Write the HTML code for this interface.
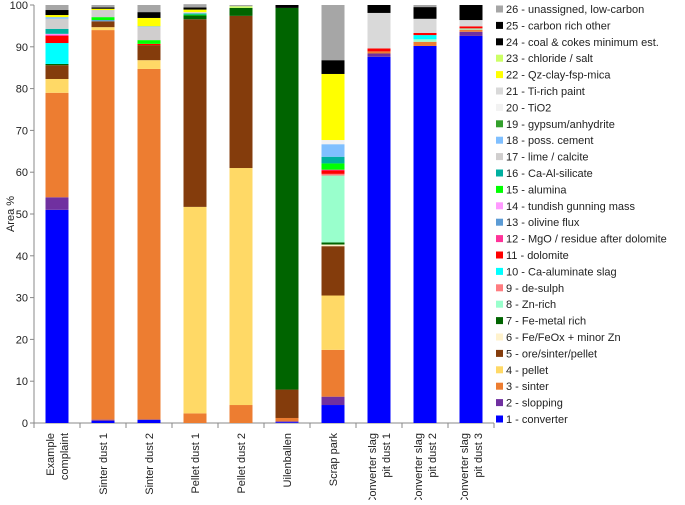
<!DOCTYPE html>
<html><head><meta charset="utf-8"><style>
body{margin:0;background:#fff;width:685px;height:500px;overflow:hidden}
svg text{font-family:"Liberation Sans",sans-serif;fill:#222}
</style></head><body>
<svg id="chart" width="685" height="500">
<g id="axes"></g><g id="bars"></g><g id="legend"></g>
</svg>
<script>
const categories=[["Example","complaint"],["Sinter dust 1"],["Sinter dust 2"],["Pellet dust 1"],["Pellet dust 2"],["Uilenballen"],["Scrap park"],["Converter slag","pit dust 1"],["Converter slag","pit dust 2"],["Converter slag","pit dust 3"]];
const seriesNames=["1 - converter","2 - slopping","3 - sinter","4 - pellet","5 - ore/sinter/pellet","6 - Fe/FeOx + minor Zn","7 - Fe-metal rich","8 - Zn-rich","9 - de-sulph","10 - Ca-aluminate slag","11 - dolomite","12 - MgO / residue after dolomite","13 - olivine flux","14 - tundish gunning mass","15 - alumina","16 - Ca-Al-silicate","17 - lime / calcite","18 - poss. cement","19 - gypsum/anhydrite","20 - TiO2","21 - Ti-rich paint","22 - Qz-clay-fsp-mica","23 - chloride / salt","24 - coal & cokes minimum est.","25 - carbon rich other","26 - unassigned, low-carbon"];
const colors=["#0000FF","#7030A0","#ED7D31","#FFD966","#843C0C","#FFF2CC","#006400","#99FFCC","#FF7C80","#00FFFF","#FF0000","#FF3399","#5B9BD5","#FF99FF","#00FF00","#00B0A0","#D0CECE","#7FBFFF","#33A02C","#F2F2F2","#D9D9D9","#FFFF00","#CCFF66","#000000","#000000","#A6A6A6"];
const s1=[51,0.5,0.8,0,0,0.2,4.3,87.6,90.2,92.6];
const s2=[3,0.3,0,0,0,0.2,2,0.8,0,1];
const s3=[25,93.2,83.9,2.3,4.3,0.8,11.2,0.5,1,0.5];
const s4=[3.3,0.7,2.1,49.4,56.7,0,13,0,0,0];
const s5=[3.3,1.4,3.6,44.9,36.4,6.8,11.8,0,0,0];
const s6=[0,0,0,0,0,0,0.4,0,0,0];
const s7=[0.3,0,0,0.9,1.9,91.3,0.5,0,0,0];
const s8=[0,0,0,0,0,0,16,0,0.6,0.3];
const s9=[0,0,0,0,0,0,0.4,0,0,0];
const s10=[5,0,0,0,0,0,0,0,1,0];
const s11=[1.7,0,0.3,0,0,0,0.8,0.7,0.5,0.5];
const s12=[0.3,0,0,0,0,0,0.2,0,0,0];
const s13=[0,0.3,0,0,0,0,0,0,0,0];
const s14=[0.2,0,0,0,0,0,0,0,0,0];
const s15=[0,0.7,0.9,0.2,0,0,1.5,0,0,0];
const s16=[1.2,0,0,0.3,0,0,1.6,0,0,0];
const s17=[2.4,1.7,3.1,0,0,0,0,0,0,0];
const s18=[0.4,0,0.2,0,0,0,3,0,0,0];
const s19=[0,0,0,0,0,0,0,0,0,0];
const s20=[0,0,0,0,0,0,1,0,0,0];
const s21=[0,0,0,0.3,0,0,0,8.5,3.4,1.5];
const s22=[0.5,0.3,2,0.6,0,0,15.8,0,0,0];
const s23=[0,0,0,0,0.4,0,0,0,0,0];
const s24=[1.2,0.3,1.4,0.5,0,0.7,3.3,1.9,2.8,3.6];
const s25=[0,0,0,0,0,0,0,0,0,0];
const s26=[1.2,0.6,1.7,0.8,0.3,0,13.2,0,0.5,0];
const series=[s1,s2,s3,s4,s5,s6,s7,s8,s9,s10,s11,s12,s13,s14,s15,s16,s17,s18,s19,s20,s21,s22,s23,s24,s25,s26];
const yTicks=[0,10,20,30,40,50,60,70,80,90,100];

const NS="http://www.w3.org/2000/svg";
const x0=34,step=46,y0=423,yTop=5,bw=23;
const yScale=v=>y0-(v/100)*(y0-yTop);
const xCenter=i=>x0+step*i+step/2;
function mk(tag,attrs,parent){const e=document.createElementNS(NS,tag);for(const k in attrs)e.setAttribute(k,attrs[k]);parent.appendChild(e);return e;}
const axes=document.getElementById('axes'),bars=document.getElementById('bars'),legend=document.getElementById('legend');

let al=mk('line',{x1:x0,y1:yTop,x2:x0,y2:y0,stroke:'#888'},axes);


let xl=mk('line',{x1:x0,y1:y0,x2:x0+step*categories.length,y2:y0,stroke:'#888'},axes);


yTicks.forEach(t=>{
  const y=yScale(t);
  mk('line',{x1:x0-4,y1:y,x2:x0,y2:y,stroke:'#888'},axes);
  const tx=mk('text',{x:x0-6,y:y+4,'text-anchor':'end','font-size':11},axes);
  tx.textContent=t;
  
  
});
const yt=mk('text',{x:14,y:214,'text-anchor':'middle','font-size':11,transform:'rotate(-90 14 214)'},axes);
yt.textContent='Area %';


for(let i=0;i<=categories.length;i++){const x=x0+step*i;mk('line',{x1:x,y1:y0,x2:x,y2:y0+5,stroke:'#888'},axes);}
categories.forEach((c,i)=>{
  const cx=xCenter(i);
  c.forEach((line,j)=>{
    const lx=cx+4+(j-(c.length-1)/2)*14;
    const t=mk('text',{x:lx,y:433,'text-anchor':'end','font-size':11,transform:`rotate(-90 ${lx} 433)`},axes);
    t.textContent=line;
    
    
  });
});
categories.forEach((c,i)=>{
  let cum=0;
  series.forEach((s,k)=>{
    const v=s[i];if(!v)return;
    const yA=yScale(cum),yB=yScale(cum+v);cum+=v;
    const r=mk('rect',{x:xCenter(i)-bw/2,y:yB,width:bw,height:yA-yB,fill:colors[k]},bars);
    
    
  });
});
seriesNames.slice().reverse().forEach((n,j)=>{
  const k=seriesNames.length-1-j;
  const y=9+j*16.4;
  const g=mk('g',{},legend);
  
  
  mk('rect',{x:496,y:y-3.5,width:7,height:7,fill:colors[k]},g);
  const t=mk('text',{x:506,y:y+4,'font-size':11},g);
  t.textContent=n;
});
</script>
</body></html>
